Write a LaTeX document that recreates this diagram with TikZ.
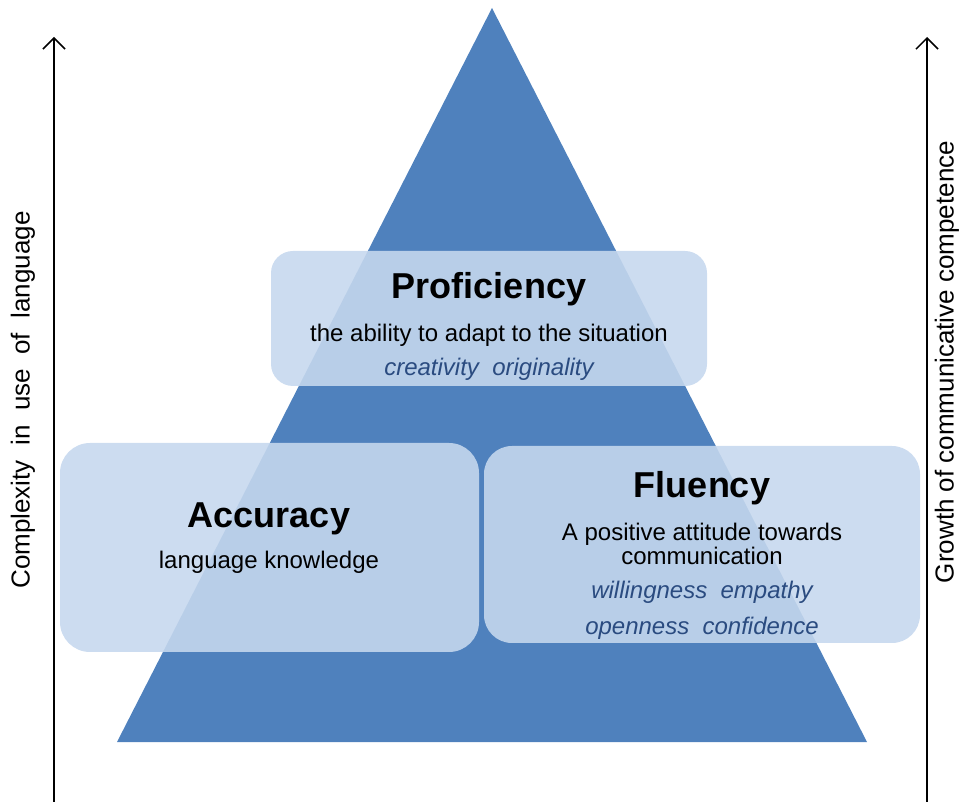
\documentclass[tikz,border=0pt]{standalone}
\usepackage{fontspec}
\setmainfont{Liberation Sans}
\usetikzlibrary{arrows.meta}
\definecolor{pyramid}{RGB}{79,129,189}
\definecolor{boxfill}{RGB}{198,216,238}
\definecolor{keyword}{RGB}{42,75,128}
\begin{document}
\begin{tikzpicture}[x=0.5pt,y=-0.5pt,
    box/.style={fill=boxfill,fill opacity=0.89,rounded corners=12pt,inner sep=0pt},
    title/.style={anchor=base,font=\fontsize{18}{20}\selectfont\bfseries},
    body/.style={anchor=base,font=\fontsize{12}{12.2}\selectfont,align=center},
    keys/.style={anchor=base,font=\fontsize{12}{14}\selectfont\itshape,text=keyword},
    axis/.style={line width=0.75pt,-{Straight Barb[length=5.5pt,width=11pt]}},
    axislabel/.style={font=\fontsize{13}{15}\selectfont,rotate=90}]
  % Boundary
  \path[use as bounding box] (0,0) rectangle (960,802);
  % Pyramid
  \coordinate (apex) at (492,8);
  \coordinate (baseL) at (117,742);
  \coordinate (baseR) at (867,742);
  \fill[pyramid] (apex) -- (baseR) -- (baseL) -- cycle;
  % Boxes
  \node[box,rounded corners=11pt,minimum width=218pt,minimum height=67.5pt] (profbox) at (489,318.5) {};
  \node[box,rounded corners=15pt,minimum width=209.5pt,minimum height=104.5pt] (accbox) at (269.5,547.5) {};
  \node[box,rounded corners=14pt,minimum width=218pt,minimum height=98.5pt] (flubox) at (702,544.5) {};
  % Proficiency
  \node[title] (prof) at (489,299) {Proficiency};
  \node[body] (profdef) at (489,342) {the ability to adapt to the situation};
  \node[keys] (profkeys) at (489,376) {creativity\ \ originality};
  % Accuracy
  \node[title] (acc) at (269,528) {Accuracy};
  \node[body] (accdef) at (269,569) {language knowledge};
  % Fluency
  \node[title] (flu) at (702,498) {Fluency};
  \node[body] (fludef) at (702,565) {A positive attitude towards\\communication};
  \node[keys] (flukeysa) at (702,599) {willingness\ \ empathy};
  \node[keys] (flukeysb) at (702,634) {openness\ \ confidence};
  % Axes
  \coordinate (lbot) at (54,802);
  \coordinate (ltop) at (54,37);
  \coordinate (rbot) at (927,802);
  \coordinate (rtop) at (927,37);
  \draw[axis] (lbot) -- (ltop);
  \draw[axis] (rbot) -- (rtop);
  \node[axislabel] (complexity) at (23,400) {Complexity\ \ in\ \ use\ \ of\ \ language};
  \node[axislabel] (growth) at (947,362) {Growth of communicative competence};
\end{tikzpicture}
\end{document}
